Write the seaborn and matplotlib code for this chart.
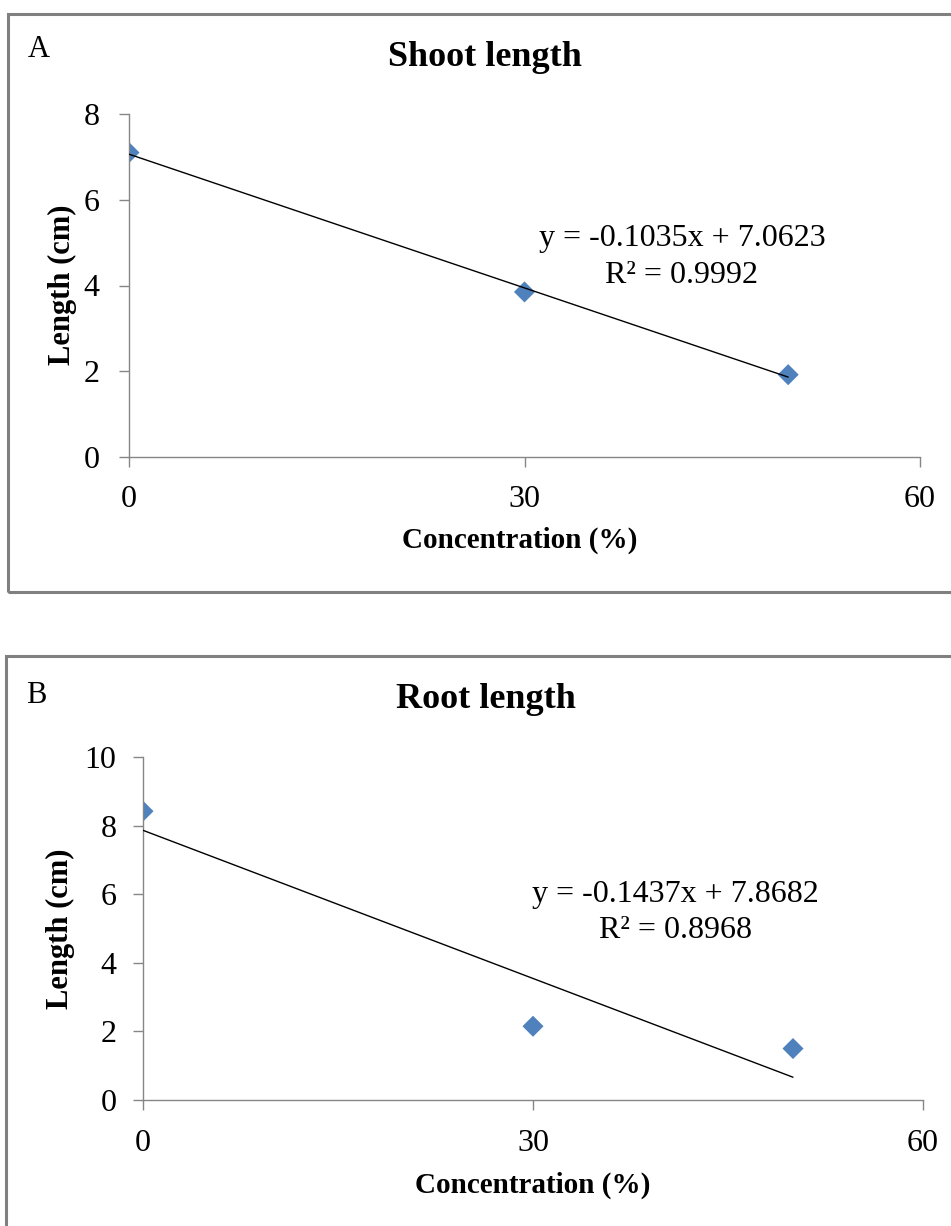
import matplotlib
matplotlib.use("Agg")
import matplotlib.pyplot as plt
from matplotlib.patches import Rectangle
import seaborn as sns
import pandas as pd

# ---- data ----
concentration = [0, 30, 50]
shoot_length = [7.10, 3.85, 1.92]
root_length = [8.42, 2.15, 1.50]
shoot_eq = "y = -0.1035x + 7.0623"
shoot_r2 = "R\u00b2 = 0.9992"
root_eq = "y = -0.1437x + 7.8682"
root_r2 = "R\u00b2 = 0.8968"
x_ticks = [0, 30, 60]
shoot_yticks = [0, 2, 4, 6, 8]
root_yticks = [0, 2, 4, 6, 8, 10]

sns.set_theme(style="white")
plt.rcParams['font.family'] = ['Liberation Serif', 'DejaVu Serif']
plt.rcParams['text.color'] = 'black'
plt.rcParams['axes.labelcolor'] = 'black'
plt.rcParams['xtick.color'] = 'black'
plt.rcParams['ytick.color'] = 'black'

W, H = 951, 1226
fig = plt.figure(figsize=(W / 100, H / 100), dpi=100)
fig.patch.set_facecolor("white")

GRAY = "#868686"
BLUE = "#4F81BD"


def fx(px):
    return px / W


def fy(py):
    return 1 - py / H


# panel borders
fig.add_artist(Rectangle((fx(8), fy(592)), 2.0, (592 - 14) / H, transform=fig.transFigure,
                         fill=False, ec="#808080", lw=2.2, clip_on=False))
fig.add_artist(Rectangle((fx(6), fy(1300)), 2.0, (1300 - 656) / H, transform=fig.transFigure,
                         fill=False, ec="#808080", lw=2.2, clip_on=False))


def make_panel(rect, yvals, ylim, yticks, eq, r2, eq_pos, r2_pos, title, title_xy,
               letter, letter_xy, ylab_xy, xlab_xy, ypad, xpad):
    ax = fig.add_axes(rect)
    df = pd.DataFrame({"conc": concentration, "len": yvals})
    sns.scatterplot(data=df, x="conc", y="len", marker="D", s=115, color=BLUE,
                    edgecolor="none", linewidth=0, ax=ax, zorder=2, legend=False)
    sns.regplot(data=df, x="conc", y="len", scatter=False, ci=None, truncate=True,
                line_kws=dict(color="black", lw=1.0, zorder=3), ax=ax)
    ax.set_xlim(0, 60)
    ax.set_ylim(*ylim)
    ax.set_xticks(x_ticks)
    ax.set_yticks(yticks)
    ax.set_xticklabels([str(v) for v in x_ticks])
    ax.set_yticklabels([str(v) for v in yticks])
    for s in ["top", "right"]:
        ax.spines[s].set_visible(False)
    for s in ["left", "bottom"]:
        ax.spines[s].set_color(GRAY)
        ax.spines[s].set_linewidth(1.0)
    ax.tick_params(axis="both", direction="out", length=7, width=1, color=GRAY,
                   labelsize=23, labelcolor="black")
    ax.tick_params(axis="y", pad=ypad, left=True)
    ax.tick_params(axis="x", pad=xpad, bottom=True)
    ax.grid(False)
    ax.set_facecolor("none")
    ax.set_xlabel("Concentration (%)", fontsize=21, fontweight="bold", va="center",
                  color="black")
    ax.xaxis.set_label_coords(*xlab_xy)
    ax.set_ylabel("Length (cm)", fontsize=22, fontweight="bold", va="center",
                  color="black")
    ax.yaxis.set_label_coords(*ylab_xy)
    ax.text(*eq_pos, eq, transform=ax.transAxes, ha="center", va="center", fontsize=23,
            color="black")
    ax.text(*r2_pos, r2, transform=ax.transAxes, ha="center", va="center", fontsize=23,
            color="black")
    fig.text(fx(title_xy[0]), fy(title_xy[1]), title, ha="center", va="center",
             fontsize=26, fontweight="bold", color="black")
    fig.text(fx(letter_xy[0]), fy(letter_xy[1]), letter, ha="left", va="baseline",
             fontsize=22, color="black")
    return ax


make_panel([fx(129), fy(457), (920 - 129) / W, 343 / H], shoot_length, (0, 8), shoot_yticks,
           shoot_eq, shoot_r2, (0.699, 0.636), (0.699, 0.530), "Shoot length", (485, 58),
           "A", (28, 57), (-0.0847, 0.501), (0.494, -0.242), 14, 13)

make_panel([fx(143), fy(1100), (923 - 143) / W, 343 / H], root_length, (0, 10), root_yticks,
           root_eq, root_r2, (0.683, 0.600), (0.683, 0.495), "Root length", (486, 700),
           "B", (26, 703), (-0.1064, 0.4985), (0.500, -0.248), 12, 14)

fig.savefig("out.png", dpi=100, facecolor="white")
